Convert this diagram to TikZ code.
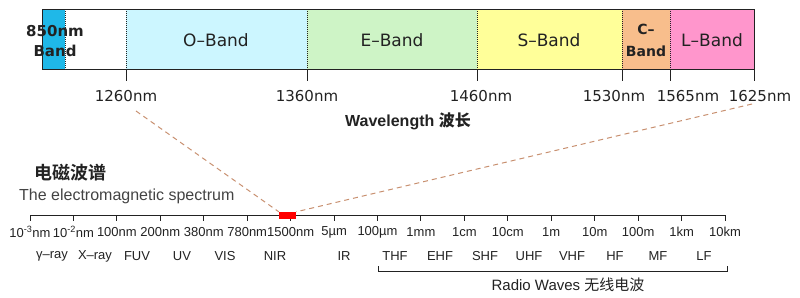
\documentclass[tikz,border=0pt]{standalone}
\usepackage{fontspec}
\setmainfont{Liberation Sans}
\newfontfamily\dv{DejaVu Sans}
\newfontfamily\cjk{Noto Sans CJK SC}
\newfontfamily\cjkb{Noto Sans CJK SC Bold}
\definecolor{c850}{HTML}{1FB8E8}
\definecolor{oband}{HTML}{CCF6FF}
\definecolor{eband}{HTML}{CEF4C6}
\definecolor{sband}{HTML}{FFFF99}
\definecolor{cband}{HTML}{F8BE8C}
\definecolor{lband}{HTML}{FF96CC}
\definecolor{txt}{HTML}{222222}
\definecolor{dashc}{HTML}{C89070}
\tikzset{
  bandlbl/.style={font=\dv\fontsize{17}{18}\selectfont, text=txt, inner sep=0pt},
  boldlbl/.style={font=\dv\bfseries\fontsize{15}{20}\selectfont, text=txt, inner sep=0pt, align=center},
  nmlbl/.style={font=\dv\fontsize{15}{16}\selectfont, text=txt, inner sep=0pt},
  axlbl/.style={font=\fontsize{13}{14}\selectfont, text=txt, inner sep=0pt},
  dotline/.style={densely dotted, line width=1pt, draw=txt},
  tickline/.style={line width=1pt, draw=txt},
  zoomline/.style={dashed, dash pattern=on 5pt off 4pt, line width=1pt, draw=dashc}
}
\begin{document}
\begin{tikzpicture}[x=1pt,y=-1pt]
\useasboundingbox (0,0) rectangle (800,297);
% top band bar
\fill[c850] (41.5,9) rectangle (65,69);
\fill[oband] (126,9) rectangle (307,69);
\fill[eband] (307,9) rectangle (477,69);
\fill[sband] (477,9) rectangle (622,69);
\fill[cband] (622,9) rectangle (670,69);
\fill[lband] (670,9) rectangle (754,69);
\node[draw=txt, line width=1.3pt, minimum width=712.5pt, minimum height=60pt, inner sep=0pt, anchor=north west] (bar) at (41.5,9) {};
\foreach \x in {65,126,307,477,622,670} \draw[dotline] (\x,9) -- (\x,69);
\foreach \x in {126,307,477,622,670,754} \draw[tickline] (\x,69) -- (\x,81);
% band labels
\node[boldlbl] (b850) at (55,41) {850nm\\Band};
\node[bandlbl] (ob) at (216,40) {O–Band};
\node[bandlbl] (eb) at (392,40) {E–Band};
\node[bandlbl] (sb) at (549,40) {S–Band};
\node[boldlbl, font=\dv\bfseries\fontsize{14}{22}\selectfont] (cb) at (646,40) {C–\\Band};
\node[bandlbl] (lb) at (712,40) {L–Band};
% wavelength labels
\node[nmlbl] (w1) at (126,96) {1260nm};
\node[nmlbl] (w2) at (307,96) {1360nm};
\node[nmlbl] (w3) at (481,96) {1460nm};
\node[nmlbl] (w4) at (614,96) {1530nm};
\node[nmlbl] (w5) at (688,96) {1565nm};
\node[nmlbl] (w6) at (760,96) {1625nm};
\node[inner sep=0pt, text=txt, font=\bfseries\fontsize{16}{18}\selectfont] (wl) at (408,121) {Wavelength {\cjkb 波长}};
% titles
\node[inner sep=0pt, text=txt, font=\cjkb\fontsize{18}{20}\selectfont, anchor=west] (t1) at (34,173) {电磁波谱};
\node[inner sep=0pt, text=txt!85, font=\fontsize{16}{18}\selectfont, anchor=west] (t2) at (19,196) {The electromagnetic spectrum};
% spectrum axis
\coordinate (axL) at (30,215);
\coordinate (axR) at (725,215);
\draw[tickline] (axL) -- (axR);
\foreach \lab [count=\i from 0] in {10\textsuperscript{-3}nm,10\textsuperscript{-2}nm,100nm,200nm,380nm,780nm,1500nm,5µm,100µm,1mm,1cm,10cm,1m,10m,100m,1km,10km}{
  \pgfmathsetmacro{\xx}{30+43.4375*\i}
  \draw[tickline] (\xx,215) -- (\xx,221);
  \node[axlbl] (ax\i) at (\xx,232) {\lab};
}
% NIR marker and zoom lines
\node[fill=red, minimum width=17pt, minimum height=7pt, inner sep=0pt] (nir) at (287.5,215.5) {};
\coordinate (zl) at (136,111);
\coordinate (zr) at (752,104);
\draw[zoomline] (zl) -- (nir.north west);
\draw[zoomline] (zr) -- (nir.north east);
% region labels
\foreach \lab/\x in {γ–ray/52,X–ray/95,FUV/137,UV/182,VIS/225,NIR/275,IR/344,THF/395,EHF/440,SHF/485,UHF/529,VHF/572,HF/615,MF/658,LF/704}{
  \node[axlbl] at (\x,256) {\lab};
}
% radio bracket
\coordinate (brL) at (378,266);
\coordinate (brR) at (727,266);
\draw[line width=1pt, draw=txt] (brL) -- ++(0,5.5) -| (brR);
\node[inner sep=0pt, text=txt, font=\fontsize{15}{16}\selectfont] (rw) at (568,285) {Radio Waves {\cjk 无线电波}};
\end{tikzpicture}
\end{document}
